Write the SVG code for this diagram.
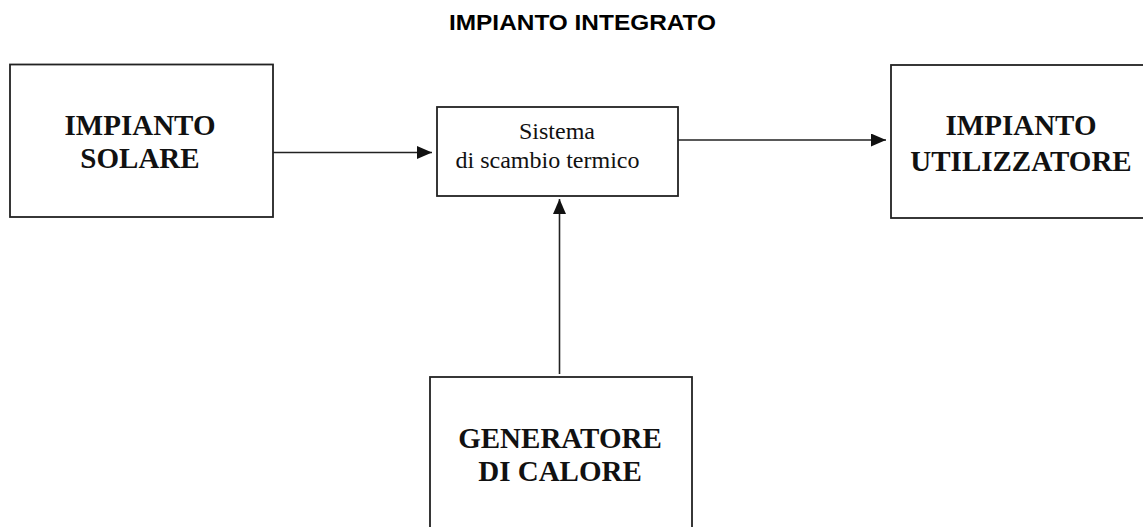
<svg xmlns="http://www.w3.org/2000/svg" width="1143" height="527" viewBox="0 0 1143 527">
<style>
.box{fill:#fff;stroke:#222;stroke-width:1.8}
.big{font-family:"Liberation Serif","Times New Roman",serif;font-weight:bold;font-size:29px;fill:#111;text-anchor:middle}
.small{font-family:"Liberation Serif","Times New Roman",serif;font-size:24px;fill:#111;text-anchor:middle}
.title{font-family:"Liberation Sans",Arial,sans-serif;font-weight:bold;font-size:22px;fill:#000}
.conn{stroke:#222;stroke-width:1.6;fill:none}
</style>
<defs>
<marker id="arr" markerWidth="15" markerHeight="13" refX="15" refY="6.5" orient="auto" markerUnits="userSpaceOnUse">
<path d="M0,0 L15,6.5 L0,13 Z" fill="#111"/>
</marker>
</defs>
<text class="title" x="449" y="30" textLength="267" lengthAdjust="spacingAndGlyphs">IMPIANTO INTEGRATO</text>
<g id="solare">
<rect class="box" x="10" y="64.5" width="263" height="152.5"/>
<text class="big" x="140" y="135">IMPIANTO</text>
<text class="big" x="140" y="168">SOLARE</text>
</g>
<g id="scambio">
<rect class="box" x="437" y="107" width="241" height="89"/>
<text class="small" x="557" y="139">Sistema</text>
<text class="small" x="547.5" y="168">di scambio termico</text>
</g>
<g id="utilizzatore">
<rect class="box" x="891" y="65" width="260" height="153"/>
<text class="big" x="1021" y="135">IMPIANTO</text>
<text class="big" x="1021" y="170.5">UTILIZZATORE</text>
</g>
<g id="generatore">
<rect class="box" x="430" y="377" width="262" height="160"/>
<text class="big" x="560" y="448">GENERATORE</text>
<text class="big" x="560" y="480.5">DI CALORE</text>
</g>
<g id="connectors">
<line class="conn" x1="273" y1="152.5" x2="432" y2="152.5" marker-end="url(#arr)"/>
<line class="conn" x1="678" y1="140" x2="886" y2="140" marker-end="url(#arr)"/>
<line class="conn" x1="559.5" y1="374" x2="559.5" y2="199" marker-end="url(#arr)"/>
</g>
</svg>
